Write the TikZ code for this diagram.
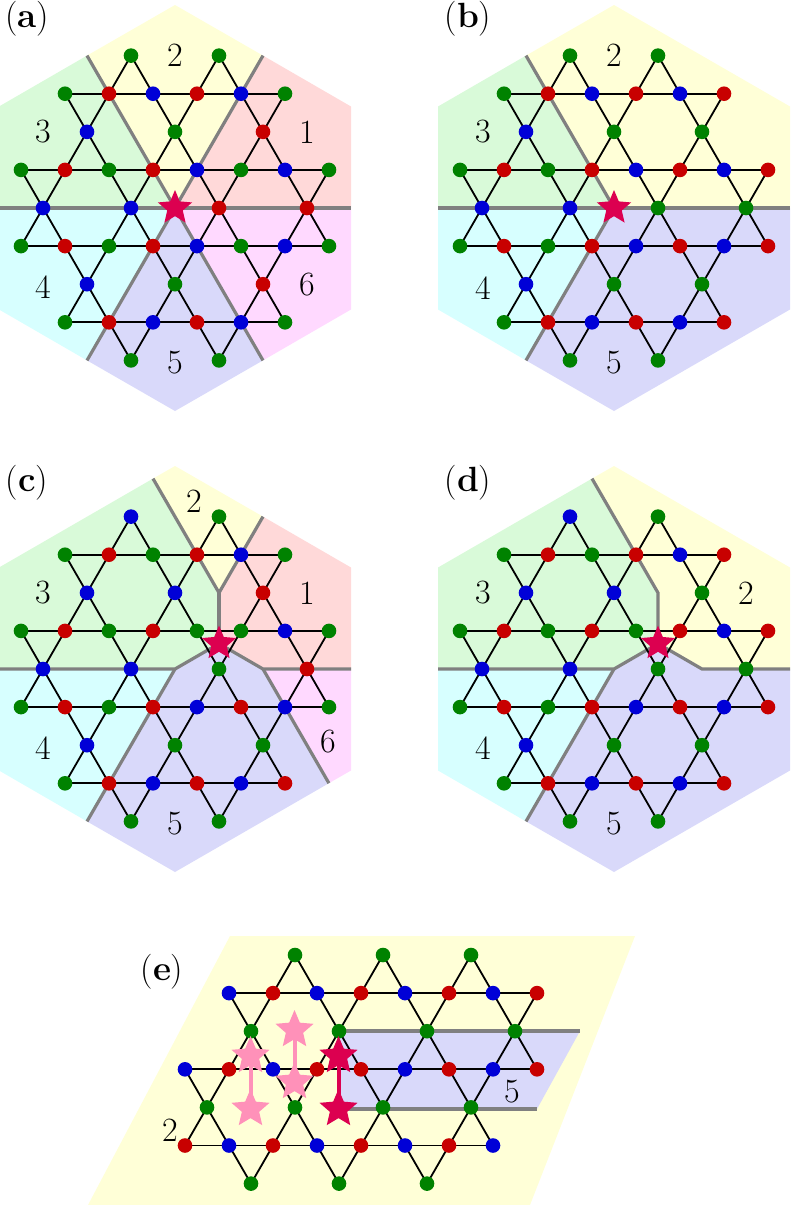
\documentclass[tikz,border=0pt]{standalone}
\usetikzlibrary{shapes.geometric}

\definecolor{sg}{RGB}{0,130,0}
\definecolor{sr}{RGB}{200,0,0}
\definecolor{sb}{RGB}{0,0,215}
\definecolor{defcol}{RGB}{220,0,80}
\definecolor{ghost}{RGB}{255,145,185}
\definecolor{reg1}{RGB}{255,217,217}
\definecolor{reg2}{RGB}{255,255,215}
\definecolor{reg3}{RGB}{217,250,217}
\definecolor{reg4}{RGB}{215,255,255}
\definecolor{reg5}{RGB}{217,217,250}
\definecolor{reg6}{RGB}{255,217,255}

\tikzset{
    bond/.style={line width=1.8pt, line cap=round},
    wall/.style={draw=gray, line width=3.2pt},
    defect/.style={star, star points=5, star point ratio=2.2, fill=defcol, inner sep=0pt, minimum size=36pt},
    lab/.style={font=\fontsize{34}{34}\selectfont},
    tag/.style={font=\fontsize{35}{35}\selectfont},
}

% #1,#2: origin, #3: rows  r/u0/step/kind/colours
% kind 0 chain, 1 cross, 2 bonds down, 3 bonds up
\newcommand\lattice[3]{%
    \foreach \r/\uo/\st/\kd/\cols in {#3} {
        \foreach \c [count=\k from 0] in \cols {
            \pgfmathsetmacro\px{#1+(\uo+\st*\k)*44}
            \pgfmathsetmacro\py{#2+\r*38.1}
            \ifnum\kd=0 \ifnum\k>0
                \draw[bond] (\px-44,\py) -- (\px,\py);
            \fi\fi
            \ifnum\kd=1
                \draw[bond] (\px-22,\py-38.1) -- (\px+22,\py+38.1);
                \draw[bond] (\px+22,\py-38.1) -- (\px-22,\py+38.1);
            \fi
            \ifnum\kd=2
                \draw[bond] (\px-22,\py+38.1) -- (\px,\py) -- (\px+22,\py+38.1);
            \fi
            \ifnum\kd=3
                \draw[bond] (\px-22,\py-38.1) -- (\px,\py) -- (\px+22,\py-38.1);
            \fi
        }
    }
    \foreach \r/\uo/\st/\kd/\cols in {#3} {
        \foreach \c [count=\k from 0] in \cols {
            \pgfmathsetmacro\px{#1+(\uo+\st*\k)*44}
            \pgfmathsetmacro\py{#2+\r*38.1}
            \fill[\c] (\px,\py) circle (7.3pt);
        }
    }
}

% hexagon corners and face midpoints, relative to the centre
\newcommand\hexcorners{%
    \coordinate (T) at (0,-203);
    \coordinate (UR) at (176,-101.5);
    \coordinate (LR) at (176,101.5);
    \coordinate (B) at (0,203);
    \coordinate (LL) at (-176,101.5);
    \coordinate (UL) at (-176,-101.5);
    \coordinate (M1) at (88,-152.4);
    \coordinate (M2) at (176,0);
    \coordinate (M3) at (88,152.4);
    \coordinate (M4) at (-88,152.4);
    \coordinate (M5) at (-176,0);
    \coordinate (M6) at (-88,-152.4);
    \coordinate (C) at (0,0);
}

\begin{document}
\begin{tikzpicture}[x=1pt, y=-1pt]
    \useasboundingbox (0,0) rectangle (790,1205);

    % (a)
    \begin{scope}[shift={(175,208)}]
        \hexcorners
        \fill[reg2] (C) -- (M6) -- (T) -- (M1) -- cycle;
        \fill[reg1] (C) -- (M1) -- (UR) -- (M2) -- cycle;
        \fill[reg6] (C) -- (M2) -- (LR) -- (M3) -- cycle;
        \fill[reg5] (C) -- (M3) -- (B) -- (M4) -- cycle;
        \fill[reg4] (C) -- (M4) -- (LL) -- (M5) -- cycle;
        \fill[reg3] (C) -- (M5) -- (UL) -- (M6) -- cycle;
        \draw[wall] (M6) -- (M3);
        \draw[wall] (M1) -- (M4);
        \draw[wall] (M5) -- (M2);
        \node[lab] at (0,-153) {2};
        \node[lab] at (132,-76) {1};
        \node[lab] at (-132,-76) {3};
        \node[lab] at (-132,79) {4};
        \node[lab] at (132,77) {6};
        \node[lab] at (0,155) {5};
    \end{scope}
    \lattice{175}{208}{
        -4/-1/2/2/{sg,sg}, -3/-2.5/1/0/{sg,sr,sb,sr,sb,sg},
        -2/-2/2/1/{sb,sg,sr}, -1/-3.5/1/0/{sg,sr,sg,sr,sb,sg,sb,sg},
        0/-3/2/1/{sb,sb,sr,sr}, 1/-3.5/1/0/{sg,sr,sg,sr,sb,sg,sb,sg},
        2/-2/2/1/{sb,sg,sr}, 3/-2.5/1/0/{sg,sr,sb,sr,sb,sg},
        4/-1/2/3/{sg,sg}}
    \node[defect] (def-a) at (175,208) {};
    \node[tag] (tag-a) at (27,19) {(\textbf{a})};

    % (b)
    \begin{scope}[shift={(614,208)}]
        \hexcorners
        \fill[reg3] (C) -- (M5) -- (UL) -- (M6) -- cycle;
        \fill[reg2] (C) -- (M6) -- (T) -- (UR) -- (M2) -- cycle;
        \fill[reg5] (C) -- (M2) -- (LR) -- (B) -- (M4) -- cycle;
        \fill[reg4] (C) -- (M4) -- (LL) -- (M5) -- cycle;
        \draw[wall] (M6) -- (C) -- (M4);
        \draw[wall] (M5) -- (M2);
        \node[lab] at (0,-153) {2};
        \node[lab] at (-131,-76) {3};
        \node[lab] at (-131,80) {4};
        \node[lab] at (0,155) {5};
    \end{scope}
    \lattice{614}{208}{
        -4/-1/2/2/{sg,sg}, -3/-2.5/1/0/{sg,sr,sb,sr,sb,sr},
        -2/-2/2/1/{sb,sg,sg}, -1/-3.5/1/0/{sg,sr,sg,sr,sb,sr,sb,sr},
        0/-3/2/1/{sb,sb,sg,sg}, 1/-3.5/1/0/{sg,sr,sg,sr,sb,sr,sb,sr},
        2/-2/2/1/{sb,sg,sg}, 3/-2.5/1/0/{sg,sr,sb,sr,sb,sr},
        4/-1/2/3/{sg,sg}}
    \node[defect] (def-b) at (614,208) {};
    \node[tag] (tag-b) at (468,19) {(\textbf{b})};

    % (c)
    \begin{scope}[shift={(175,669)}]
        \hexcorners
        \coordinate (P) at (-22,-190.4);
        \coordinate (Y) at (44,-76.2);
        \coordinate (S) at (44,-25.4);
        \coordinate (H0) at (0,0);
        \coordinate (H1) at (88,0);
        \coordinate (Q) at (153.9,114.2);
        \fill[reg3] (P) -- (Y) -- (S) -- (H0) -- (M5) -- (UL) -- cycle;
        \fill[reg2] (P) -- (T) -- (M1) -- (Y) -- cycle;
        \fill[reg1] (M1) -- (UR) -- (M2) -- (H1) -- (S) -- (Y) -- cycle;
        \fill[reg6] (H1) -- (M2) -- (LR) -- (Q) -- cycle;
        \fill[reg5] (H0) -- (S) -- (H1) -- (Q) -- (B) -- (M4) -- cycle;
        \fill[reg4] (M5) -- (H0) -- (M4) -- (LL) -- cycle;
        \draw[wall] (P) -- (Y) -- (M1);
        \draw[wall] (Y) -- (S);
        \draw[wall] (M5) -- (H0) -- (S) -- (H1) -- (M2);
        \draw[wall] (H0) -- (M4);
        \draw[wall] (H1) -- (Q);
        \node[lab] at (19,-168) {2};
        \node[lab] at (132,-76) {1};
        \node[lab] at (-132,-76) {3};
        \node[lab] at (-132,79) {4};
        \node[lab] at (153,73) {6};
        \node[lab] at (0,155) {5};
    \end{scope}
    \lattice{175}{669}{
        -4/-1/2/2/{sb,sg}, -3/-2.5/1/0/{sg,sr,sg,sr,sb,sg},
        -2/-2/2/1/{sb,sb,sr}, -1/-3.5/1/0/{sg,sr,sg,sr,sg,sg,sb,sg},
        0/-3/2/1/{sb,sb,sg,sr}, 1/-3.5/1/0/{sg,sr,sg,sr,sb,sr,sb,sg},
        2/-2/2/1/{sb,sg,sg}, 3/-2.5/1/0/{sg,sr,sb,sr,sb,sr},
        4/-1/2/3/{sg,sg}}
    \node[defect] (def-c) at (219,643.6) {};
    \node[tag] (tag-c) at (27,483) {(\textbf{c})};

    % (d)
    \begin{scope}[shift={(614,669)}]
        \hexcorners
        \coordinate (P) at (-22,-190.4);
        \coordinate (Y) at (44,-76.2);
        \coordinate (S) at (44,-25.4);
        \coordinate (H0) at (0,0);
        \coordinate (H1) at (88,0);
        \fill[reg3] (P) -- (Y) -- (S) -- (H0) -- (M5) -- (UL) -- cycle;
        \fill[reg2] (P) -- (T) -- (UR) -- (M2) -- (H1) -- (S) -- (Y) -- cycle;
        \fill[reg5] (H0) -- (S) -- (H1) -- (M2) -- (LR) -- (B) -- (M4) -- cycle;
        \fill[reg4] (M5) -- (H0) -- (M4) -- (LL) -- cycle;
        \draw[wall] (P) -- (Y) -- (S);
        \draw[wall] (M5) -- (H0) -- (S) -- (H1) -- (M2);
        \draw[wall] (H0) -- (M4);
        \node[lab] at (-131,-76) {3};
        \node[lab] at (132,-76) {2};
        \node[lab] at (-131,79) {4};
        \node[lab] at (0,155) {5};
    \end{scope}
    \lattice{614}{669}{
        -4/-1/2/2/{sb,sg}, -3/-2.5/1/0/{sg,sr,sg,sr,sb,sr},
        -2/-2/2/1/{sb,sb,sg}, -1/-3.5/1/0/{sg,sr,sg,sr,sg,sr,sb,sr},
        0/-3/2/1/{sb,sb,sg,sg}, 1/-3.5/1/0/{sg,sr,sg,sr,sb,sr,sb,sr},
        2/-2/2/1/{sb,sg,sg}, 3/-2.5/1/0/{sg,sr,sb,sr,sb,sr},
        4/-1/2/3/{sg,sg}}
    \node[defect] (def-d) at (658,643.6) {};
    \node[tag] (tag-d) at (468,483) {(\textbf{d})};

    % (e)
    \fill[reg2] (230,936) -- (635,936) -- (530,1205) -- (88,1205) -- cycle;
    \fill[reg5] (338,1031) -- (580,1031) -- (537,1109) -- (338,1109) -- cycle;
    \draw[wall] (338,1031) -- (580,1031);
    \draw[wall] (340,1109) -- (537,1109);
    \lattice{229}{955}{
        0/1.5/2/2/{sg,sg,sg}, 1/0/1/0/{sb,sr,sb,sr,sb,sr,sb,sr},
        2/0.5/2/1/{sg,sg,sg,sg}, 3/-1/1/0/{sb,sr,sb,sr,sr,sb,sr,sb,sr},
        4/-0.5/2/1/{sg,sg,sg,sg}, 5/-1/1/0/{sr,sb,sr,sb,sr,sb,sr,sb},
        6/0.5/2/3/{sg,sg,sg}}
    \node[defect, fill=ghost, minimum size=40pt] (g1a) at (250.5,1056) {};
    \node[defect, fill=ghost, minimum size=40pt] (g1b) at (250.5,1109) {};
    \node[defect, fill=ghost, minimum size=40pt] (g2a) at (294.5,1030) {};
    \node[defect, fill=ghost, minimum size=40pt] (g2b) at (294.5,1082) {};
    \node[defect, minimum size=40pt] (d1a) at (338.5,1056) {};
    \node[defect, minimum size=40pt] (d1b) at (338.5,1109) {};
    \draw[ghost, line width=4pt] (g1a.center) -- (g1b.center);
    \draw[ghost, line width=4pt] (g2a.center) -- (g2b.center);
    \draw[defcol, line width=4pt] (d1a.center) -- (d1b.center);
    \node[lab] at (170,1130) {2};
    \node[lab] at (512,1092) {5};
    \node[tag] (tag-e) at (162,972) {(\textbf{e})};
\end{tikzpicture}
\end{document}
